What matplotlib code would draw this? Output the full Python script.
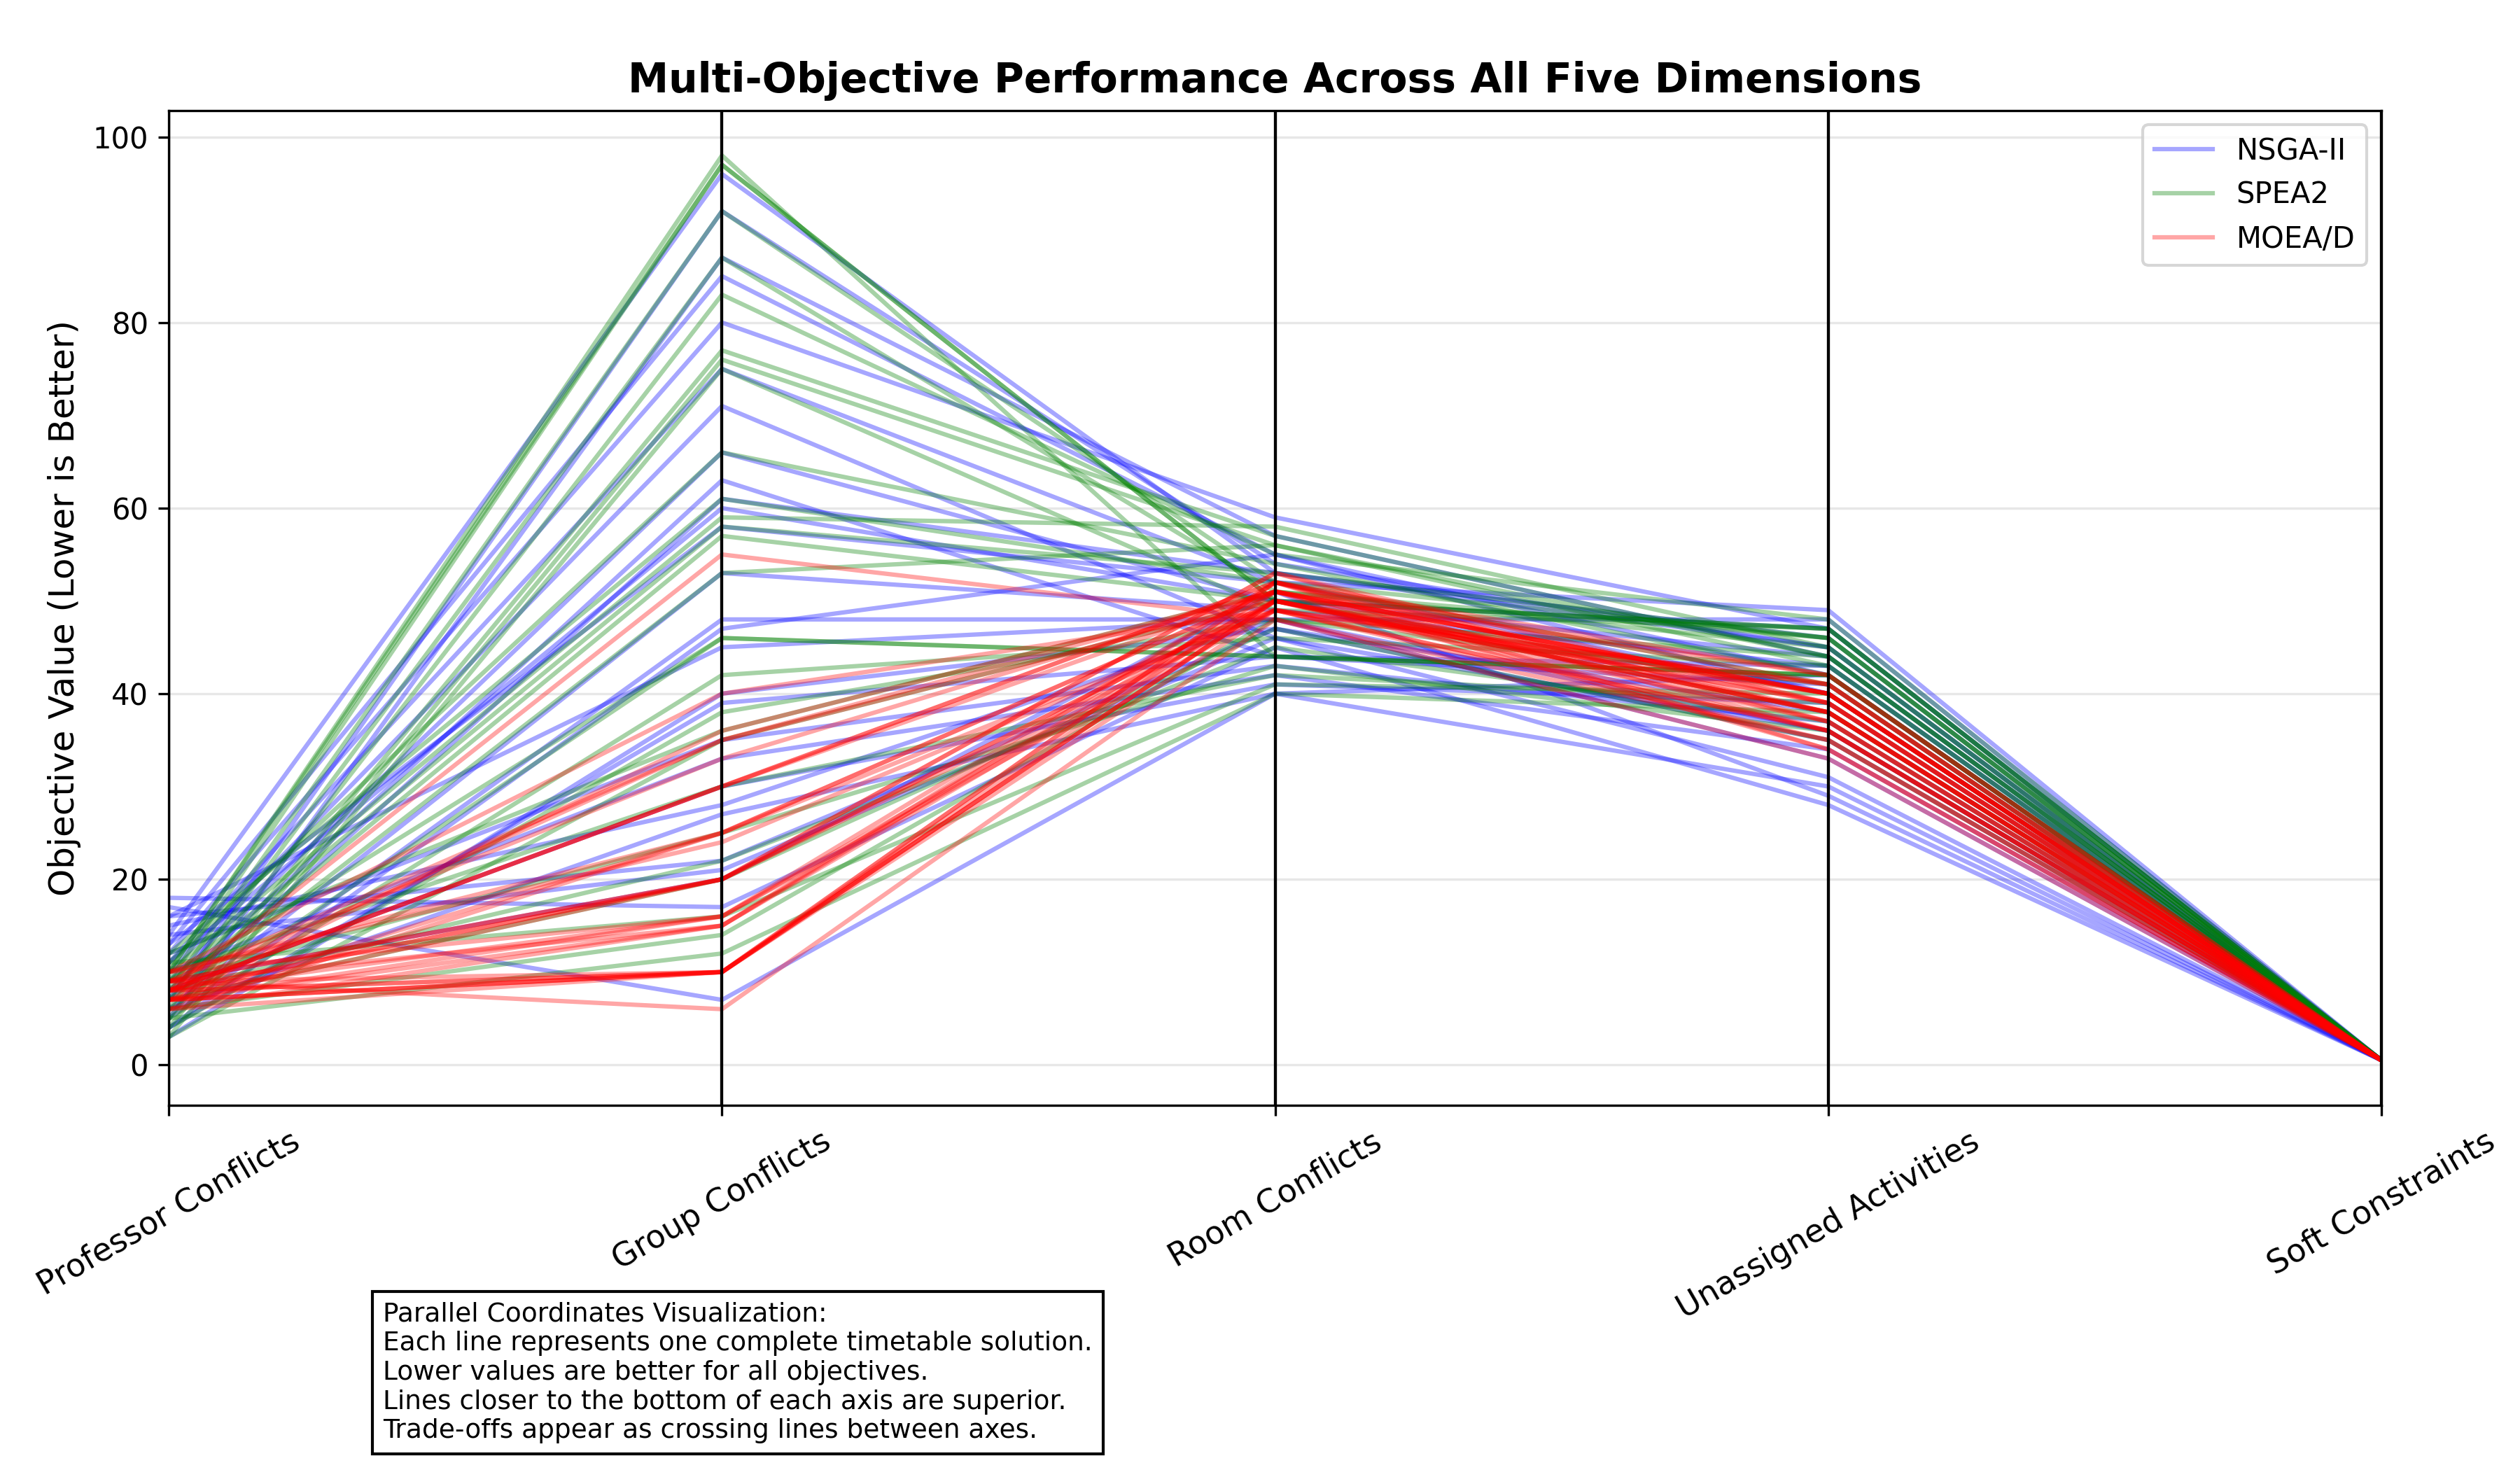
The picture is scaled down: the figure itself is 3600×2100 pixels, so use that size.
import pandas as pd
import matplotlib
matplotlib.use("Agg")
import matplotlib.pyplot as plt
from pandas.plotting import parallel_coordinates

objectives = ["Professor Conflicts", "Group Conflicts", "Room Conflicts",
              "Unassigned Activities", "Soft Constraints"]

# NSGA-II solutions
nsga_prof = [18, 17, 16, 15, 14, 13, 12, 11, 10, 9, 8, 7, 6, 5, 4, 3, 12, 10, 8, 6, 14, 9, 7, 5, 11, 13, 4, 16]
nsga_group = [17, 7, 22, 28, 96, 85, 80, 75, 71, 66, 63, 61, 53, 48, 47, 40, 35, 33, 30, 27, 21, 20, 92, 87, 60, 58, 39, 45]
nsga_room = [45, 40, 47, 48, 53, 55, 59, 52, 46, 50, 44, 53, 49, 48, 55, 47, 43, 42, 41, 40, 46, 51, 54, 57, 50, 52, 44, 48]
nsga_unass = [28, 30, 35, 33, 45, 42, 47, 49, 36, 44, 41, 46, 43, 48, 40, 38, 37, 34, 39, 42, 31, 29, 45, 44, 47, 40, 43, 36]
nsga_soft = [0.5] * 28

# SPEA2 solutions
spea_prof = [10, 9, 8, 7, 6, 5, 4, 3, 11, 12, 10, 9, 8, 7, 6, 5, 4, 3, 10, 9, 8, 7, 11, 6, 5, 12, 10, 9]
spea_group = [98, 97, 92, 87, 83, 77, 76, 75, 66, 61, 59, 58, 57, 53, 46, 42, 38, 35, 30, 25, 22, 20, 16, 14, 12, 36, 97, 46]
spea_room = [44, 50, 52, 51, 55, 57, 56, 49, 54, 52, 58, 53, 50, 56, 44, 46, 48, 50, 42, 43, 45, 47, 41, 48, 40, 51, 50, 44]
spea_unass = [42, 47, 46, 45, 48, 44, 43, 47, 42, 41, 45, 46, 40, 44, 42, 43, 41, 38, 39, 36, 37, 35, 40, 44, 38, 46, 47, 42]
spea_soft = [0.5] * 28

# MOEA/D solutions
moead_prof = [9, 8, 7, 6, 10, 9, 8, 7, 6, 8, 9, 7, 10, 8, 6, 7, 9, 8, 10, 7, 8, 9,
              8, 7, 9, 8, 7, 10, 8, 9, 7, 8]
moead_group = [6, 10, 10, 15, 16, 20, 20, 25, 25, 30, 35, 36, 40, 55, 10, 15, 20, 30, 24, 10, 16, 33,
               10, 10, 15, 20, 20, 25, 30, 10, 16, 35]
moead_room = [48, 49, 50, 51, 52, 50, 53, 49, 51, 52, 50, 51, 49, 48, 52, 50, 53, 51, 49, 52, 50, 51,
              50, 51, 52, 49, 50, 51, 52, 50, 49, 51]
moead_unass = [33, 35, 38, 40, 42, 36, 39, 41, 37, 34, 40, 38, 36, 35, 41, 39, 37, 42, 40, 36, 38, 34,
               39, 40, 38, 41, 37, 40, 39, 38, 36, 40]
moead_soft = [0.5] * 32


def frame(name, cols):
    d = pd.DataFrame(dict(zip(objectives, cols)))
    d["Algorithm"] = name
    return d


df = pd.concat([
    frame("NSGA-II", [nsga_prof, nsga_group, nsga_room, nsga_unass, nsga_soft]),
    frame("SPEA2", [spea_prof, spea_group, spea_room, spea_unass, spea_soft]),
    frame("MOEA/D", [moead_prof, moead_group, moead_room, moead_unass, moead_soft]),
], ignore_index=True)

fig, ax = plt.subplots(figsize=(12, 7), dpi=300)
parallel_coordinates(df, "Algorithm", color=["blue", "green", "red"], alpha=0.35, ax=ax, linewidth=1.5)
ax.set_title("Multi-Objective Performance Across All Five Dimensions", fontsize=14, fontweight="bold")
ax.set_ylabel("Objective Value (Lower is Better)", fontsize=12)
ax.grid(False)
ax.yaxis.grid(True, alpha=0.3)
for x in range(len(objectives)):
    ax.axvline(x, color="black", linewidth=1)
plt.setp(ax.get_xticklabels(), rotation=30, fontsize=11)
ax.legend(loc="upper right")

fig.text(0.152, 0.018,
         "Parallel Coordinates Visualization:\n"
         "Each line represents one complete timetable solution.\n"
         "Lower values are better for all objectives.\n"
         "Lines closer to the bottom of each axis are superior.\n"
         "Trade-offs appear as crossing lines between axes.",
         fontsize=9, va="bottom", ha="left",
         bbox=dict(boxstyle="square,pad=0.4", facecolor="white", edgecolor="black"))

plt.subplots_adjust(left=0.067, right=0.945, top=0.925, bottom=0.248)
fig.savefig("out.png")
